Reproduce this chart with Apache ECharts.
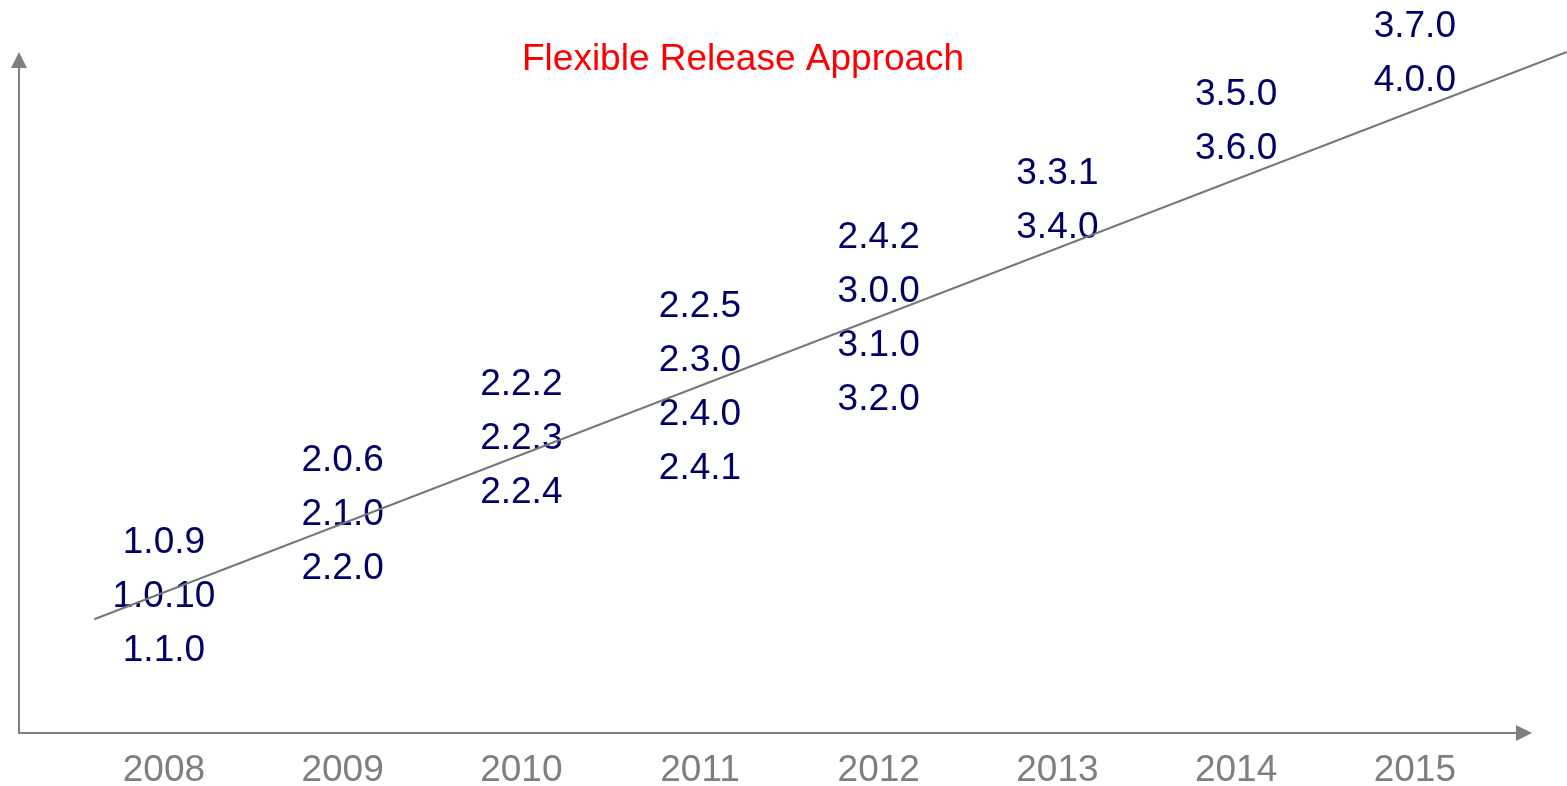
<!DOCTYPE html>
<html>
<head>
<meta charset="utf-8">
<script src="https://cdn.jsdelivr.net/npm/echarts@6/dist/echarts.min.js"></script>
<style>
  html, body { margin: 0; padding: 0; background: #ffffff; }
  #chart { width: 1567px; height: 786px; }
</style>
</head>
<body>
<div id="chart"></div>
<script>
// ---- data ----
const titleText = 'Flexible Release Approach';
const years = [2008, 2009, 2010, 2011, 2012, 2013, 2014, 2015];
const versionsByYear = [
  ['1.0.9', '1.0.10', '1.1.0'],
  ['2.0.6', '2.1.0', '2.2.0'],
  ['2.2.2', '2.2.3', '2.2.4'],
  ['2.2.5', '2.3.0', '2.4.0', '2.4.1'],
  ['2.4.2', '3.0.0', '3.1.0', '3.2.0'],
  ['3.3.1', '3.4.0'],
  ['3.5.0', '3.6.0'],
  ['3.7.0', '4.0.0']
];
// vertical centre of each year's version stack (0-100 scale)
const stackLevel = [20.3, 32.4, 43.7, 51.3, 61.5, 79.1, 90.8, 100.9];
// trend line end points [year, level]
const trendX = [2007.61, 2015.85];
const trendY = [16.9, 101.2];

// ---- build ----
const versionData = years.map((y, i) => ({
  value: [y, stackLevel[i]],
  name: versionsByYear[i].join('\n')
}));
const trendData = [[trendX[0], trendY[0], trendX[1], trendY[1]]];

const FONT = '"Liberation Sans", Arial, sans-serif';
const axisGray = '#7f7f7f';

const chart = echarts.init(document.getElementById('chart'), null, { renderer: 'canvas' });
chart.setOption({
  backgroundColor: '#ffffff',
  animation: false,
  title: {
    text: titleText,
    left: 522,
    top: 41,
    padding: 0,
    textStyle: { color: '#ff0000', fontSize: 37, fontWeight: 'normal', fontFamily: FONT, lineHeight: 37 }
  },
  grid: { left: 19, right: 43, top: 60, bottom: 53, containLabel: false, outerBoundsMode: 'none' },
  xAxis: {
    type: 'value',
    min: 2007.189,
    max: 2015.611,
    splitLine: { show: false },
    axisTick: { show: false },
    axisLine: {
      show: true,
      onZero: false,
      symbol: ['none', 'triangle'],
      symbolSize: [16, 16],
      lineStyle: { color: axisGray, width: 2 }
    },
    axisLabel: {
      show: true,
      customValues: years,
      formatter: v => String(Math.round(v)),
      color: axisGray,
      fontSize: 37,
      fontFamily: FONT,
      margin: 19
    }
  },
  yAxis: {
    type: 'value',
    min: 0,
    max: 100,
    splitLine: { show: false },
    axisTick: { show: false },
    axisLabel: { show: false },
    axisLine: {
      show: true,
      onZero: false,
      symbol: ['none', 'triangle'],
      symbolSize: [16, 16],
      lineStyle: { color: axisGray, width: 2 }
    }
  },
  series: [
    {
      type: 'scatter',
      data: versionData,
      symbolSize: 0,
      clip: false,
      z: 2,
      itemStyle: { opacity: 1 },
      label: {
        show: true,
        position: 'inside',
        formatter: p => p.name,
        color: '#000066',
        textBorderWidth: 0,
        textBorderColor: 'transparent',
        fontSize: 37,
        lineHeight: 54,
        fontFamily: FONT,
        align: 'center',
        verticalAlign: 'middle'
      },
      emphasis: { disabled: true }
    },
    {
      type: 'custom',
      data: trendData,
      clip: false,
      z: 5,
      silent: true,
      encode: { x: [0, 2], y: [1, 3] },
      renderItem: (params, api) => {
        const p1 = api.coord([api.value(0), api.value(1)]);
        const p2 = api.coord([api.value(2), api.value(3)]);
        return {
          type: 'line',
          shape: { x1: p1[0], y1: p1[1], x2: p2[0], y2: p2[1] },
          style: { stroke: '#777777', lineWidth: 2 }
        };
      }
    }
  ]
});
</script>
</body>
</html>
